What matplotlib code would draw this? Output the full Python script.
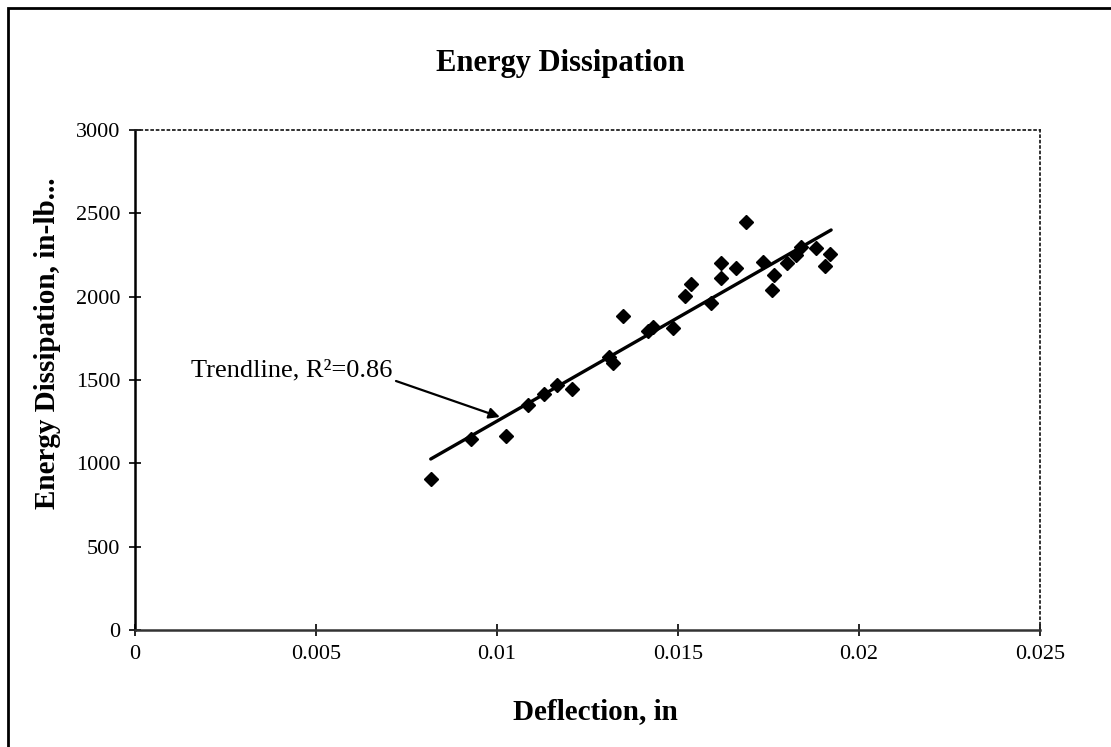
import numpy as np
import matplotlib
matplotlib.use("Agg")
from matplotlib import pyplot as plt
from matplotlib.patches import Rectangle

# deflection (in) and energy dissipation (in-lb)
deflection = [0.00817, 0.00927, 0.01025, 0.01087, 0.01131, 0.01165, 0.01208,
              0.01310, 0.01321, 0.01349, 0.01418, 0.01432, 0.01487, 0.01519,
              0.01536, 0.01591, 0.01618, 0.01618, 0.01659, 0.01687, 0.01734,
              0.01759, 0.01764, 0.01800, 0.01825, 0.01840, 0.01881, 0.01906,
              0.01920]
energy = [905, 1147, 1167, 1351, 1415, 1468, 1448, 1640, 1604, 1884, 1795,
          1820, 1814, 2004, 2074, 1964, 2200, 2110, 2170, 2450, 2210, 2040,
          2130, 2200, 2250, 2300, 2290, 2184, 2255]

# trendline end points as drawn
trend_x = [0.00817, 0.01923]
trend_y = [1026, 2400]

x_ticks = [0, 0.005, 0.01, 0.015, 0.02, 0.025]
x_labels = ["0", "0.005", "0.01", "0.015", "0.02", "0.025"]
y_ticks = [0, 500, 1000, 1500, 2000, 2500, 3000]

plt.rcParams['font.family'] = ['Liberation Serif', 'DejaVu Serif']

fig = plt.figure(figsize=(11.11, 7.47), dpi=100)
ax = fig.add_axes([0.1215, 0.1566, 0.8146, 0.6694])

ax.plot(deflection, energy, linestyle='none', marker='D', markersize=7.5,
        color='black')
ax.plot(trend_x, trend_y, color='black', linewidth=2.4, solid_capstyle='round')

# annotation: label plus arrow pointing at the trendline
ax.text(0.00434, 1560, "Trendline, R\u00b2=0.86", fontsize=19,
        ha='center', va='center')
ax.annotate("", xy=(0.01008, 1278), xytext=(0.00721, 1494),
            arrowprops=dict(arrowstyle='-|>', color='black', lw=1.6,
                            mutation_scale=16, shrinkA=0, shrinkB=0))

ax.set_xlim(0, 0.025)
ax.set_ylim(0, 3000)
ax.set_xticks(x_ticks)
ax.set_xticklabels(x_labels)
ax.set_yticks(y_ticks)
ax.tick_params(direction='inout', length=9, width=1.2, labelsize=16, pad=6)

ax.spines['left'].set_linewidth(1.8)
ax.spines['bottom'].set_linewidth(1.8)
ax.spines['bottom'].set_color('#333333')
for s in ['top', 'right']:
    ax.spines[s].set_linestyle((0, (1, 2)))
    ax.spines[s].set_linewidth(1.3)
    ax.spines[s].set_color('#222222')

ax.set_xlabel("Deflection, in", fontsize=21, fontweight='bold')
ax.set_ylabel("Energy Dissipation, in-lb...", fontsize=21, fontweight='bold')
ax.xaxis.set_label_coords(0.509, -0.164)
ax.yaxis.set_label_coords(-0.097, 0.574)
ax.xaxis.label.set_va('center')
ax.yaxis.label.set_va('center')
fig.text(0.504, 0.915, "Energy Dissipation", fontsize=22, fontweight='bold',
         ha='center', va='center')

# outer chart frame
fig.add_artist(Rectangle((0.0072, -0.1), 1.2, 1.089, transform=fig.transFigure,
                         fill=False, edgecolor='black', linewidth=2.0))

fig.savefig("out.png", dpi=100)
